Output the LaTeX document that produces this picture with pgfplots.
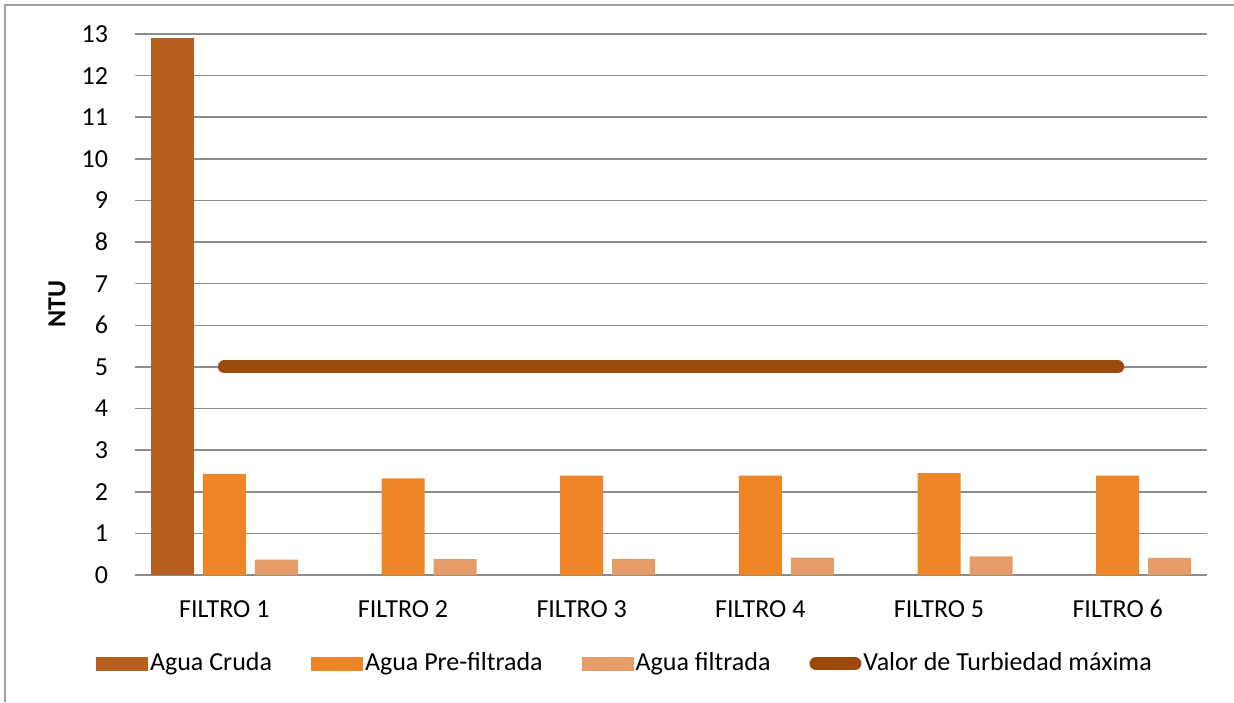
\documentclass[border=0pt]{standalone}
\usepackage{fontspec}
\setmainfont{Carlito}
\usepackage{pgfplots}
\pgfplotsset{compat=1.18}

\definecolor{cruda}{HTML}{B65E1D}
\definecolor{pre}{HTML}{EE8526}
\definecolor{fil}{HTML}{E69C68}
\definecolor{limite}{HTML}{9C4A0C}
\definecolor{grilla}{HTML}{8C8C8C}
\definecolor{marco}{HTML}{A0A0A0}

\pgfplotsset{
  legbar/.style={legend image code/.code={\fill[##1] (0pt,-3.5pt) rectangle (26pt,3.5pt);}},
  legline/.style={legend image code/.code={\draw[##1] (3.25pt,0pt) -- (22.75pt,0pt);}},
}

\begin{document}
\fontsize{13}{15.6}\selectfont
\begin{tikzpicture}
\useasboundingbox (-67.5pt,-63.5pt) rectangle (549.5pt,287.5pt);
\draw[marco, line width=0.8pt] (-65pt,-63.5pt) -- (-65pt,285pt) -- (549.5pt,285pt);
\begin{axis}[
  scale only axis, width=536pt, height=270.5pt,
  xmin=0.5, xmax=6.5, ymin=0, ymax=13,
  xtick={1,2,3,4,5,6},
  xticklabels={FILTRO 1,FILTRO 2,FILTRO 3,FILTRO 4,FILTRO 5,FILTRO 6},
  ytick={0,1,...,13},
  major tick length=0pt,
  axis line style={draw=none},
  ymajorgrids, grid style={grilla, line width=0.8pt},
  /pgf/number format/assume math mode=true,
  yticklabel style={xshift=-9pt},
  xticklabel style={yshift=-7.5pt, text height=9pt, text depth=2pt},
  ylabel={\bfseries NTU},
  ylabel style={at={(axis description cs:-0.0728,0.5)}, anchor=center},
  legend columns=-1,
  legend style={at={(axis description cs:0.457,-0.164)}, anchor=center, draw=none,
    nodes={inner sep=1pt}, /tikz/every even column/.append style={column sep=18.5pt}},
  legend cell align=left,
]
\addplot[ybar, bar width=21.5pt, bar shift=-26pt, draw=none, fill=cruda, legbar]
  coordinates {(1,12.9)};
\addplot[ybar, bar width=21.5pt, bar shift=0pt, draw=none, fill=pre, legbar]
  coordinates {(1,2.43) (2,2.32) (3,2.39) (4,2.39) (5,2.45) (6,2.39)};
\addplot[ybar, bar width=21.5pt, bar shift=26pt, draw=none, fill=fil, legbar]
  coordinates {(1,0.37) (2,0.38) (3,0.39) (4,0.42) (5,0.45) (6,0.41)};
\addplot[limite, line width=6.5pt, line cap=round, mark=none, legline]
  coordinates {(1,5) (6,5)};
\legend{Agua Cruda, Agua Pre-filtrada, Agua filtrada, Valor de Turbiedad máxima}
\end{axis}
\end{tikzpicture}
\end{document}
